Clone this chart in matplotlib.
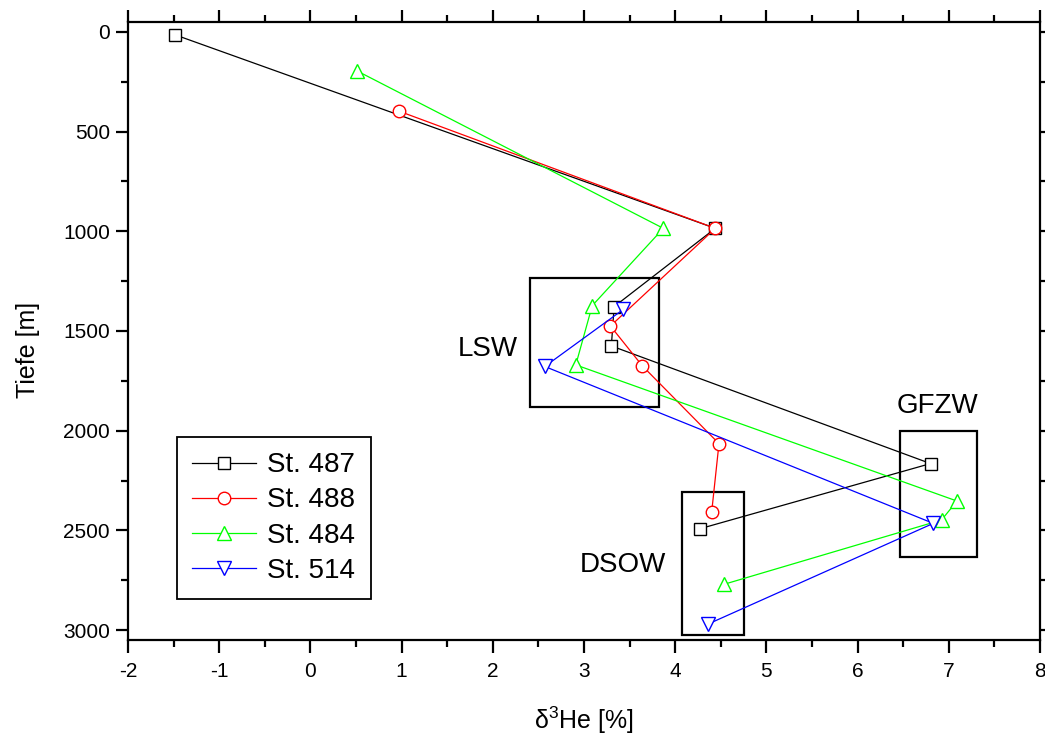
import matplotlib
matplotlib.use("Agg")
import matplotlib.pyplot as plt
from matplotlib.patches import Rectangle
from matplotlib.ticker import MultipleLocator

plt.rcParams['font.family'] = ['Liberation Sans', 'DejaVu Sans']
plt.rcParams['mathtext.fontset'] = 'custom'
plt.rcParams['mathtext.rm'] = 'Liberation Sans'
plt.rcParams['mathtext.default'] = 'regular'
plt.rcParams['axes.unicode_minus'] = False

# ---- data ----
st487_x = [-1.48, 4.44, 3.33, 3.30, 6.80, 4.27]
st487_y = [15, 985, 1378, 1575, 2165, 2492]

st488_x = [0.97, 4.44, 3.29, 3.64, 4.48, 4.40]
st488_y = [397, 985, 1475, 1675, 2065, 2408]

st484_x = [0.51, 3.87, 3.09, 2.91, 7.09, 6.92, 4.54]
st484_y = [195, 985, 1373, 1670, 2353, 2448, 2770]

st514_x = [3.43, 2.57, 6.83, 4.36]
st514_y = [1392, 1678, 2465, 2970]

series_labels = ["St. 487", "St. 488", "St. 484", "St. 514"]
series_colors = ["black", "#ff0000", "#00ff00", "#0000ff"]
series_markers = ["s", "o", "^", "v"]

# water mass boxes
box_names = ["LSW", "DSOW", "GFZW"]
box_x0 = [2.41, 4.08, 6.47]
box_x1 = [3.82, 4.75, 7.31]
box_y0 = [1233, 2307, 2003]
box_y1 = [1882, 3025, 2633]
label_x = [1.95, 3.43, 6.88]
label_y = [1625, 2708, 1910]

fig = plt.figure(figsize=(10.45, 7.38), dpi=100)
ax = fig.add_axes([128/1045, 1-640/738, 912/1045, 618/738])

xs = [st487_x, st488_x, st484_x, st514_x]
ys = [st487_y, st488_y, st484_y, st514_y]
msizes = [8.5, 9, 10.5, 10.5]
for i in range(4):
    ax.plot(xs[i], ys[i], color=series_colors[i], lw=0.9,
            marker=series_markers[i], ms=msizes[i], mfc='white',
            mec=series_colors[i], mew=1.0, label=series_labels[i], zorder=3 + i)

for n, x0, x1, y0, y1, lx, ly in zip(box_names, box_x0, box_x1, box_y0, box_y1, label_x, label_y):
    ax.add_patch(Rectangle((x0, y0), x1 - x0, y1 - y0, fill=False, ec='black', lw=1.6, zorder=2))
    ax.text(lx, ly, n, fontsize=20, ha='center', va='baseline', zorder=10)

ax.set_xlim(-2, 8)
ax.set_ylim(3050, -50)
ax.xaxis.set_major_locator(MultipleLocator(1))
ax.xaxis.set_minor_locator(MultipleLocator(0.5))
ax.yaxis.set_major_locator(MultipleLocator(500))
ax.yaxis.set_minor_locator(MultipleLocator(250))

for s in ax.spines.values():
    s.set_linewidth(1.6)

ax.tick_params(which='both', direction='out', top=True, right=True, width=1.6, labelsize=15)
ax.tick_params(which='major', length=9)
ax.tick_params(which='minor', length=5)
ax.tick_params(axis='y', which='major', pad=4)
ax.tick_params(axis='x', which='major', pad=7)
for t in ax.yaxis.get_major_ticks():
    t.tick2line.set_markersize(5)

ax.set_xlabel(r'δ$^{3}$He [%]', fontsize=18)
ax.set_ylabel('Tiefe [m]', fontsize=18)
ax.xaxis.set_label_coords(0.5, -0.105)
ax.yaxis.set_label_coords(-0.097, 0.47)

leg = ax.legend(loc='upper left', bbox_to_anchor=(0.0537, 0.3285), borderaxespad=0,
                fontsize=20, handlelength=2.3, handletextpad=0.4, labelspacing=0.33,
                borderpad=0.55, fancybox=False, framealpha=1, edgecolor='black')
leg.get_frame().set_linewidth(1.3)

fig.savefig('out.png', dpi=100)
